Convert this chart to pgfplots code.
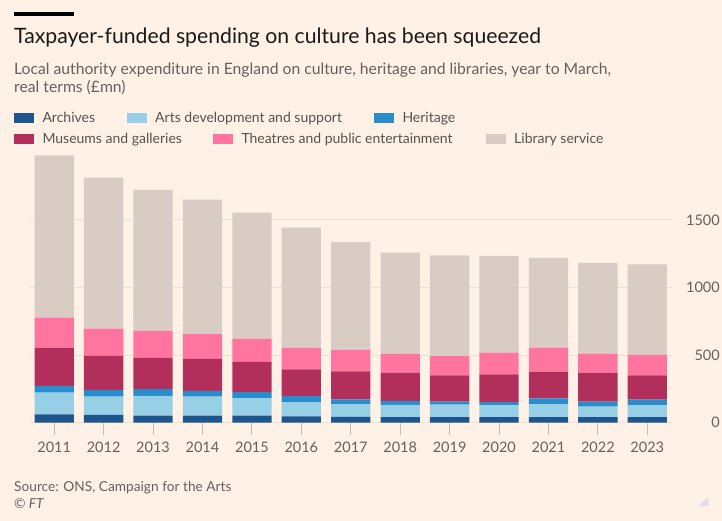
\documentclass[border=0pt]{standalone}
\usepackage{pgfplots}
\usepackage{pgfplotstable}
\pgfplotsset{compat=1.18}
\usepackage{fontspec}
\setmainfont{Lato}

\definecolor{paper}{HTML}{FFF1E5}
\definecolor{cArch}{HTML}{1E558C}
\definecolor{cArts}{HTML}{96CFE6}
\definecolor{cHer}{HTML}{2A8DCB}
\definecolor{cMus}{HTML}{B22F5B}
\definecolor{cThe}{HTML}{FF75A0}
\definecolor{cLib}{HTML}{D9CCC4}
\definecolor{txt}{HTML}{66605C}
\definecolor{gridc}{HTML}{EFE0D3}
\definecolor{tickc}{HTML}{C9BCB1}

% Spending by year to March, real terms (GBP mn)
\pgfplotstableread{
x  arch arts her mus the lib
0  62   160  50  284 222 1200
1  57   136  49  252 203 1116
2  52   146  51  230 201 1042
3  52   141  42  237 183 995
4  52   128  47  223 170 934
5  47   104  47  197 158 890
6  44   94   35  207 159 798
7  42   89   30  210 138 749
8  42   91   23  195 141 746
9  42   86   25  205 161 716
10 42   94   44  198 178 664
11 42   77   37  210 145 672
12 42   86   42  181 150 670
}\spend

\begin{document}
\begin{tikzpicture}
\begin{scope}[x=1pt,y=1pt]
\path[use as bounding box, fill=paper] (0,0) rectangle (722,-521);

% top rule and headings
\fill[black] (14.3,-12.3) rectangle (74,-16);
\node[anchor=base west, inner sep=0pt, font=\fontsize{21.2}{25}\selectfont, text=black!90]
  at (14,-43.3) {Taxpayer-funded spending on culture has been squeezed};
\node[anchor=base west, inner sep=0pt, font=\fontsize{15.7}{18}\selectfont, text=txt]
  at (14,-75) {Local authority expenditure in England on culture, heritage and libraries, year to March,};
\node[anchor=base west, inner sep=0pt, font=\fontsize{15.7}{18}\selectfont, text=txt]
  at (14,-92.7) {real terms (£mn)};

% key
\def\key#1#2#3#4{%
  \fill[#1] (#2,#3) rectangle ++(19.7,-9.5);
  \node[anchor=base west, inner sep=0pt, font=\fontsize{14}{16}\selectfont, text=txt!85!black]
    at (#2+28,#3-9.4) {#4};}
\key{cArch}{14.3}{-113.3}{Archives}
\key{cArts}{127}{-113.3}{Arts development and support}
\key{cHer}{374.3}{-113.3}{Heritage}
\key{cMus}{14.3}{-134.4}{Museums and galleries}
\key{cThe}{213.3}{-134.4}{Theatres and public entertainment}
\key{cLib}{486}{-134.4}{Library service}

% footer
\node[anchor=base west, inner sep=0pt, font=\fontsize{13.7}{16}\selectfont, text=txt]
  at (14,-491.7) {Source: ONS, Campaign for the Arts};
\node[anchor=base west, inner sep=0pt, font=\fontsize{13.7}{16}\selectfont\itshape, text=txt]
  at (14,-508.3) {© FT};
\fill[black!12] (698.3,-506) -- (708.3,-506) -- (708.3,-497) -- cycle;
\end{scope}

\begin{axis}[
  at={(30pt,-422.7pt)}, anchor=south west,
  scale only axis, width=642pt, height=270.3pt,
  xmin=-0.49, xmax=12.5, ymin=0, ymax=2000,
  ybar stacked, bar width=39.3pt,
  axis x line*=bottom, axis y line*=right,
  x axis line style={draw=gridc, line width=1pt, -},
  y axis line style={draw=none},
  xtick=data,
  xticklabels={2011,2012,2013,2014,2015,2016,2017,2018,2019,2020,2021,2022,2023},
  ytick={0,500,1000,1500},
  ymajorgrids, grid style={gridc, line width=1pt},
  tick align=outside, major tick length=12pt,
  xtick style={draw=tickc, line width=1pt},
  ytick style={draw=none},
  /pgf/number format/assume math mode=true,
  /pgf/number format/1000 sep={},
  ticklabel style={font=\fontsize{14.5}{16}\selectfont, text=txt},
  yticklabel style={anchor=east, inner sep=0pt, xshift=36pt},
  xticklabel style={anchor=base, inner sep=0pt, yshift=-17.5pt},
  clip=false,
]
\addplot[fill=cArch, draw=none] table[x=x, y=arch] {\spend};
\addplot[fill=cArts, draw=none] table[x=x, y=arts] {\spend};
\addplot[fill=cHer,  draw=none] table[x=x, y=her]  {\spend};
\addplot[fill=cMus,  draw=none] table[x=x, y=mus]  {\spend};
\addplot[fill=cThe,  draw=none] table[x=x, y=the]  {\spend};
\addplot[fill=cLib,  draw=none] table[x=x, y=lib]  {\spend};
% category tick marks below the baseline
\pgfplotsinvokeforeach{0,...,12}{
  \draw[tickc, line width=1pt] (axis cs:#1,0) -- ++(0pt,-12pt);
}
\end{axis}
\end{tikzpicture}
\end{document}
